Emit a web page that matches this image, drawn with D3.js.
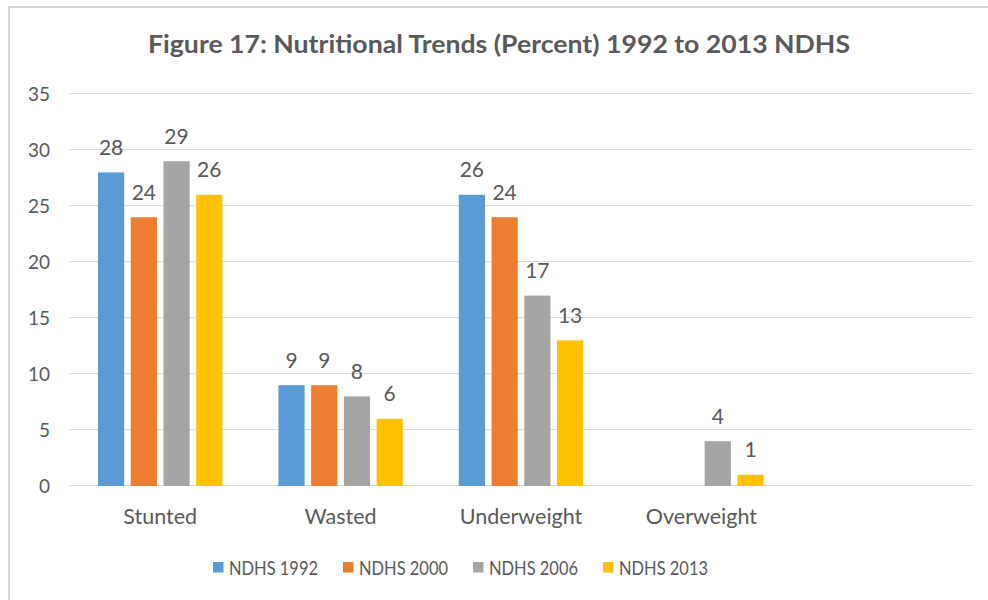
<!DOCTYPE html>
<html>
<head>
<meta charset="utf-8">
<script src="https://cdn.jsdelivr.net/npm/d3@7"></script>
<style>
  body { margin: 0; background: #fff; }
  svg { display: block; font-family: Lato, "Open Sans", sans-serif; }
</style>
</head>
<body>
<div id="chart"></div>
<script>
// datos
const categories = ["Stunted", "Wasted", "Underweight", "Overweight", ""];
const series = ["NDHS 1992", "NDHS 2000", "NDHS 2006", "NDHS 2013"];
const ndhs1992 = [28, 9, 26, null, null];
const ndhs2000 = [24, 9, 24, null, null];
const ndhs2006 = [29, 8, 17, 4, null];
const ndhs2013 = [26, 6, 13, 1, null];
const yTicks = [0, 5, 10, 15, 20, 25, 30, 35];
const colors = ["#5B9BD5", "#ED7D31", "#A5A5A5", "#FFC000"];
const title = "Figure 17: Nutritional Trends (Percent) 1992 to 2013 NDHS";

const valores = [ndhs1992, ndhs2000, ndhs2006, ndhs2013];

const width = 988, height = 600;
const txt = "#595959", grid = "#d9d9d9";

const svg = d3.select("#chart").append("svg")
  .attr("width", width)
  .attr("height", height);

// marco del grafico (solo se ven borde superior e izquierdo)
svg.append("rect")
  .attr("x", 9).attr("y", 7)
  .attr("width", 1000).attr("height", 700)
  .attr("fill", "none")
  .attr("stroke", "#d6d6d6")
  .attr("stroke-width", 2);

// titulo
svg.append("text")
  .attr("x", 499).attr("y", 53)
  .attr("text-anchor", "middle")
  .attr("fill", txt)
  .attr("font-size", 25)
  .attr("font-weight", "bold")
  .attr("textLength", 702)
  .attr("lengthAdjust", "spacingAndGlyphs")
  .text(title);

// escalas
const y = d3.scaleLinear().domain([0, 35]).range([486, 94]);

const x0 = d3.scaleBand()
  .domain(categories.map((c, i) => i))
  .range([70, 972])
  .paddingInner(0.274)
  .paddingOuter(0.137);

const x1 = d3.scaleBand()
  .domain(series)
  .range([0, x0.bandwidth()])
  .paddingInner(0.2)
  .paddingOuter(0.1);

// rejilla
const g = svg.append("g");
g.selectAll(".grid")
  .data(yTicks)
  .enter().append("line")
  .attr("x1", 69.5).attr("x2", 972.5)
  .attr("y1", d => Math.round(y(d)) - 0.5)
  .attr("y2", d => Math.round(y(d)) - 0.5)
  .attr("stroke", grid)
  .attr("stroke-width", 1);

// etiquetas eje y
g.selectAll(".ytick")
  .data(yTicks)
  .enter().append("text")
  .attr("x", 50)
  .attr("y", d => y(d) + 7)
  .attr("text-anchor", "end")
  .attr("fill", txt)
  .attr("font-size", 19)
  .text(d => d);

// barras
const grupos = g.selectAll(".grupo")
  .data(categories.map((c, i) => i))
  .enter().append("g")
  .attr("transform", i => "translate(" + x0(i) + ",0)");

grupos.selectAll("rect")
  .data(i => series.map((s, k) => ({s: s, k: k, v: valores[k][i]})).filter(d => d.v != null))
  .enter().append("rect")
  .attr("x", d => x1(d.s))
  .attr("y", d => y(d.v))
  .attr("width", x1.bandwidth())
  .attr("height", d => y(0) - y(d.v))
  .attr("fill", d => colors[d.k]);

grupos.selectAll(".lbl")
  .data(i => series.map((s, k) => ({s: s, k: k, v: valores[k][i]})).filter(d => d.v != null))
  .enter().append("text")
  .attr("x", d => x1(d.s) + x1.bandwidth() / 2)
  .attr("y", d => y(d.v) - 17.5)
  .attr("text-anchor", "middle")
  .attr("fill", txt)
  .attr("font-size", 21)
  .text(d => d.v);

// categorias
g.selectAll(".cat")
  .data(categories)
  .enter().append("text")
  .attr("x", (c, i) => x0(i) + x0.bandwidth() / 2)
  .attr("y", 524)
  .attr("text-anchor", "middle")
  .attr("fill", txt)
  .attr("font-size", 21.5)
  .text(c => c);

// leyenda
const leyenda = svg.append("g").selectAll(".ley")
  .data(series)
  .enter().append("g")
  .attr("transform", (s, k) => "translate(" + (213 + k * 130) + ",0)");

leyenda.append("rect")
  .attr("x", 0).attr("y", 562)
  .attr("width", 10.5).attr("height", 10.5)
  .attr("fill", (s, k) => colors[k]);

leyenda.append("text")
  .attr("x", 16).attr("y", 574.5)
  .attr("fill", txt)
  .attr("font-size", 19.5)
  .attr("textLength", 89)
  .attr("lengthAdjust", "spacingAndGlyphs")
  .text(s => s);
</script>
</body>
</html>
